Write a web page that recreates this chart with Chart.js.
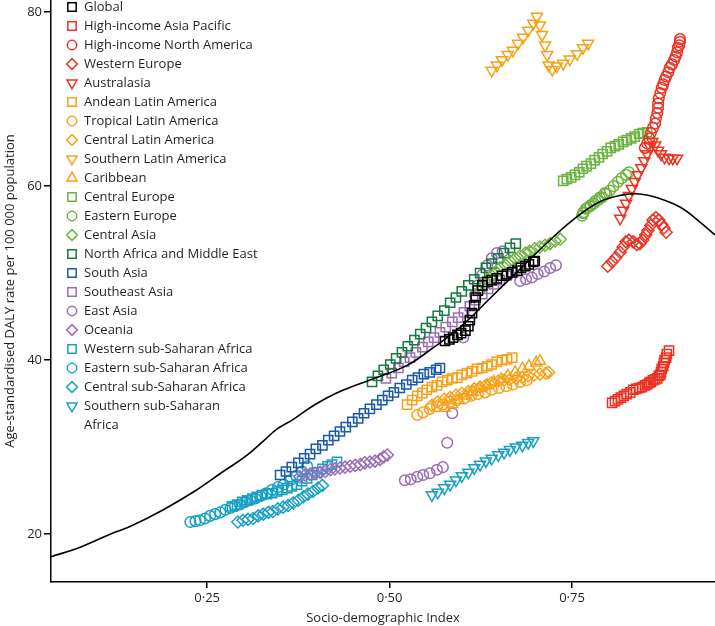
<!DOCTYPE html>
<html>
<head>
<meta charset="utf-8">
<script src="https://cdn.jsdelivr.net/npm/chart.js@4.4.0/dist/chart.umd.min.js"></script>
<style>
  html, body { margin: 0; padding: 0; background: #fff; }
  #wrap { width: 715px; height: 626px; }
</style>
</head>
<body>
<div id="wrap"><canvas id="chart" width="715" height="626"></canvas></div>
<script>
// expected values by SDI (black line)
const curveSdi = [0.036,0.076,0.117,0.145,0.190,0.236,0.272,0.302,0.327,0.346,0.368,0.398,0.432,0.476,0.524,0.556,0.587,0.610,0.634,0.679,0.716,0.751,0.788,0.820,0.843,0.866,0.898,0.925,0.946];
const curveDaly = [17.4,18.5,20.0,20.9,22.8,25.1,27.2,28.9,30.7,32.1,33.2,34.9,36.4,37.8,39.4,41.2,43.1,44.8,46.8,50.5,53.5,56.1,58.2,59.0,59.1,58.7,57.6,55.9,54.4];

// observed trajectories, one pair of arrays per region
const globalSdi = [0.576,0.582,0.587,0.593,0.598,0.604,0.608,0.610,0.613,0.616,0.618,0.621,0.627,0.634,0.640,0.647,0.654,0.661,0.668,0.675,0.680,0.686,0.691,0.697,0.699];
const globalDaly = [42.2,42.4,42.6,42.9,43.1,43.4,43.9,44.6,45.4,46.3,47.2,48.0,48.6,49.0,49.2,49.4,49.7,49.9,50.1,50.3,50.6,50.8,51.0,51.3,51.4];

const hiapSdi = [0.805,0.809,0.813,0.817,0.821,0.825,0.830,0.834,0.838,0.842,0.846,0.850,0.853,0.856,0.858,0.861,0.864,0.867,0.869,0.871,0.872,0.873,0.875,0.876,0.877,0.879,0.880,0.883];
const hiapDaly = [35.1,35.3,35.5,35.7,35.9,36.1,36.3,36.6,36.7,36.8,36.9,37.1,37.2,37.4,37.5,37.7,37.8,37.9,38.2,38.3,38.6,39.0,39.3,39.7,40.0,40.3,40.7,41.1];

const hinaSdi = [0.850,0.853,0.856,0.858,0.861,0.864,0.865,0.867,0.868,0.868,0.869,0.871,0.873,0.875,0.877,0.879,0.882,0.884,0.887,0.890,0.892,0.894,0.895,0.897,0.898,0.898];
const hinaDaly = [64.4,64.9,65.5,66.1,66.7,67.2,67.8,68.4,69.0,69.5,70.1,70.7,71.3,71.7,72.2,72.6,73.1,73.6,74.0,74.5,74.9,75.4,75.9,76.2,76.6,76.9];

const weSdi = [0.799,0.805,0.810,0.816,0.820,0.824,0.828,0.834,0.839,0.843,0.847,0.851,0.854,0.858,0.861,0.865,0.869,0.873,0.876,0.879];
const weDaly = [50.8,51.3,51.8,52.4,53.0,53.6,53.8,53.6,53.3,53.4,53.8,54.4,54.9,55.5,56.1,56.4,56.1,55.6,55.2,54.7];

const ausSdi = [0.816,0.820,0.824,0.828,0.832,0.836,0.840,0.845,0.849,0.853,0.857,0.860,0.864,0.868,0.872,0.877,0.883,0.888,0.894];
const ausDaly = [56.3,57.2,58.0,58.9,59.7,60.5,61.3,62.1,62.9,63.7,64.5,65.1,64.7,64.1,63.7,63.3,63.2,63.2,63.2];

const andeanSdi = [0.524,0.531,0.538,0.545,0.551,0.558,0.565,0.572,0.579,0.586,0.593,0.599,0.606,0.613,0.620,0.627,0.634,0.640,0.647,0.654,0.661,0.668];
const andeanDaly = [34.9,35.4,35.9,36.2,36.6,36.9,37.1,37.5,37.7,37.9,38.0,38.3,38.5,38.7,39.0,39.1,39.3,39.5,39.8,40.0,40.1,40.3];

const tropSdi = [0.538,0.546,0.555,0.565,0.573,0.583,0.592,0.602,0.612,0.621,0.631,0.640,0.650,0.660,0.669,0.679,0.688];
const tropDaly = [33.7,34.0,34.4,34.7,34.9,35.2,35.4,35.6,35.9,36.1,36.3,36.6,36.8,37.0,37.2,37.5,37.7];

const clatSdi = [0.558,0.566,0.575,0.583,0.591,0.599,0.608,0.616,0.624,0.632,0.640,0.649,0.657,0.665,0.673,0.682,0.690,0.698,0.706,0.714,0.718];
const clatDaly = [34.8,35.2,35.5,35.7,36.0,36.2,36.4,36.7,36.9,37.1,37.4,37.6,37.7,37.8,37.9,38.0,38.2,38.3,38.4,38.5,38.6];

const slatSdi = [0.640,0.647,0.654,0.662,0.669,0.676,0.683,0.690,0.697,0.702,0.706,0.709,0.713,0.716,0.718,0.723,0.729,0.738,0.747,0.757,0.765,0.772];
const slatDaly = [73.3,73.9,74.5,75.1,75.6,76.4,77.1,77.9,78.7,79.5,78.5,77.4,76.2,75.1,73.9,73.4,73.8,74.1,74.6,75.2,75.9,76.4];

const caribSdi = [0.576,0.586,0.595,0.605,0.614,0.624,0.634,0.643,0.653,0.662,0.672,0.682,0.691,0.701,0.706];
const caribDaly = [34.5,34.9,35.4,35.9,36.3,36.8,37.1,37.5,37.8,38.2,38.6,39.0,39.3,39.7,39.9];

const ceuSdi = [0.738,0.743,0.749,0.754,0.760,0.765,0.770,0.776,0.781,0.787,0.792,0.798,0.803,0.809,0.814,0.820,0.825,0.831,0.836,0.842,0.847,0.853];
const ceuDaly = [60.6,60.8,61.0,61.3,61.6,62.0,62.3,62.6,63.0,63.3,63.7,64.0,64.4,64.6,64.8,65.1,65.3,65.5,65.7,66.0,66.1,66.2];

const eeuSdi = [0.795,0.788,0.782,0.775,0.769,0.765,0.764,0.766,0.771,0.775,0.780,0.786,0.791,0.797,0.802,0.807,0.813,0.818,0.824,0.828];
const eeuDaly = [59.2,58.7,58.3,57.8,57.4,56.9,56.6,57.0,57.5,57.7,58.0,58.4,58.7,59.1,59.5,60.0,60.5,60.9,61.3,61.6];

const casSdi = [0.624,0.630,0.635,0.640,0.646,0.651,0.658,0.665,0.672,0.679,0.686,0.692,0.699,0.706,0.713,0.720,0.727,0.734];
const casDaly = [48.0,48.6,49.2,49.7,50.1,50.6,51.0,51.4,51.7,52.0,52.3,52.5,52.8,53.0,53.2,53.4,53.7,53.9];

const nameSdi = [0.476,0.484,0.492,0.501,0.509,0.517,0.525,0.534,0.542,0.550,0.558,0.566,0.575,0.583,0.591,0.599,0.608,0.616,0.624,0.632,0.640,0.649,0.657,0.665,0.673];
const nameDaly = [37.5,38.2,38.9,39.5,40.2,40.9,41.6,42.3,43.0,43.7,44.4,45.1,45.7,46.6,47.2,47.9,48.6,49.3,50.0,50.6,51.1,51.7,52.3,52.9,53.4];

const sasSdi = [0.350,0.358,0.366,0.375,0.383,0.391,0.399,0.408,0.416,0.424,0.432,0.440,0.449,0.457,0.465,0.473,0.482,0.490,0.498,0.506,0.514,0.523,0.531,0.539,0.547,0.555,0.564,0.569];
const sasDaly = [26.8,27.2,27.7,28.2,28.7,29.2,29.8,30.2,30.8,31.3,31.8,32.3,32.9,33.3,33.9,34.4,34.9,35.4,35.9,36.3,36.8,37.2,37.7,38.0,38.4,38.6,38.9,39.1];

const seaSdi = [0.495,0.503,0.512,0.520,0.528,0.536,0.545,0.553,0.561,0.569,0.577,0.586,0.594,0.602,0.610,0.618,0.627,0.635,0.643,0.651,0.660,0.668,0.676];
const seaDaly = [37.9,38.5,39.1,39.8,40.3,40.9,41.5,42.1,42.6,43.2,43.8,44.4,44.9,45.5,46.2,46.9,47.6,48.2,48.7,49.2,49.7,50.1,50.6];

const easSdi = [0.521,0.529,0.538,0.546,0.555,0.565,0.573,0.579,0.586,0.601,0.617,0.621,0.627,0.634,0.640,0.647,0.655,0.679,0.687,0.695,0.703,0.712,0.720,0.728];
const easDaly = [26.2,26.3,26.6,26.8,27.0,27.4,27.7,30.5,33.9,42.6,47.5,48.6,49.8,50.9,51.7,52.3,52.5,49.1,49.3,49.5,49.9,50.2,50.6,50.9];

const oceSdi = [0.377,0.384,0.391,0.398,0.405,0.412,0.419,0.425,0.432,0.439,0.446,0.453,0.460,0.466,0.473,0.480,0.487,0.492,0.497];
const oceDaly = [26.6,26.8,26.9,27.0,27.1,27.2,27.4,27.5,27.6,27.7,27.8,27.9,28.0,28.2,28.3,28.4,28.6,28.9,29.1];

const wssaSdi = [0.284,0.291,0.298,0.305,0.312,0.318,0.325,0.332,0.339,0.346,0.353,0.360,0.366,0.373,0.380,0.387,0.394,0.401,0.408,0.415,0.421,0.428];
const wssaDaly = [23.2,23.4,23.7,23.9,24.1,24.3,24.5,24.6,24.7,24.9,25.1,25.3,25.5,25.7,26.1,26.4,26.8,27.1,27.5,27.8,28.0,28.3];

const essaSdi = [0.227,0.234,0.240,0.247,0.254,0.261,0.268,0.275,0.282,0.288,0.295,0.302,0.309,0.316,0.323,0.331,0.339,0.347,0.355,0.364,0.372,0.380,0.387];
const essaDaly = [21.4,21.5,21.6,21.8,22.1,22.3,22.5,22.8,23.0,23.2,23.4,23.7,23.9,24.1,24.4,24.7,25.1,25.4,25.7,26.2,26.7,27.2,27.8];

const cssaSdi = [0.292,0.299,0.306,0.313,0.320,0.327,0.334,0.340,0.347,0.354,0.361,0.368,0.375,0.382,0.388,0.395,0.402,0.408];
const cssaDaly = [21.4,21.6,21.7,21.8,22.1,22.3,22.5,22.6,22.9,23.1,23.3,23.6,23.9,24.3,24.6,24.9,25.3,25.6];

const sssaSdi = [0.558,0.566,0.575,0.583,0.591,0.599,0.608,0.616,0.624,0.632,0.640,0.649,0.657,0.665,0.673,0.682,0.690,0.697];
const sssaDaly = [24.5,24.8,25.3,25.7,26.2,26.7,27.1,27.6,28.0,28.4,28.7,29.1,29.4,29.7,30.0,30.2,30.5,30.7];

const xTicks = [0.25, 0.50, 0.75];
const yTicks = [20, 40, 60, 80];

const RED = '#ec3323', ORANGE = '#f7a11a', LGREEN = '#6db33f', DGREEN = '#177a3e',
      BLUE = '#1a5aab', PURPLE = '#9a6db5', TEAL = '#17a0c4';

// legend order = drawing order
const regions = [
  { name: 'Global', sdi: globalSdi, daly: globalDaly, color: '#000', shape: 'rect' },
  { name: 'High-income Asia Pacific', sdi: hiapSdi, daly: hiapDaly, color: RED, shape: 'rect' },
  { name: 'High-income North America', sdi: hinaSdi, daly: hinaDaly, color: RED, shape: 'circle' },
  { name: 'Western Europe', sdi: weSdi, daly: weDaly, color: RED, shape: 'rectRot' },
  { name: 'Australasia', sdi: ausSdi, daly: ausDaly, color: RED, shape: 'down' },
  { name: 'Andean Latin America', sdi: andeanSdi, daly: andeanDaly, color: ORANGE, shape: 'rect' },
  { name: 'Tropical Latin America', sdi: tropSdi, daly: tropDaly, color: ORANGE, shape: 'circle' },
  { name: 'Central Latin America', sdi: clatSdi, daly: clatDaly, color: ORANGE, shape: 'rectRot' },
  { name: 'Southern Latin America', sdi: slatSdi, daly: slatDaly, color: ORANGE, shape: 'down' },
  { name: 'Caribbean', sdi: caribSdi, daly: caribDaly, color: ORANGE, shape: 'triangle' },
  { name: 'Central Europe', sdi: ceuSdi, daly: ceuDaly, color: LGREEN, shape: 'rect' },
  { name: 'Eastern Europe', sdi: eeuSdi, daly: eeuDaly, color: LGREEN, shape: 'circle' },
  { name: 'Central Asia', sdi: casSdi, daly: casDaly, color: LGREEN, shape: 'rectRot' },
  { name: 'North Africa and Middle East', sdi: nameSdi, daly: nameDaly, color: DGREEN, shape: 'rect' },
  { name: 'South Asia', sdi: sasSdi, daly: sasDaly, color: BLUE, shape: 'rect' },
  { name: 'Southeast Asia', sdi: seaSdi, daly: seaDaly, color: PURPLE, shape: 'rect' },
  { name: 'East Asia', sdi: easSdi, daly: easDaly, color: PURPLE, shape: 'circle' },
  { name: 'Oceania', sdi: oceSdi, daly: oceDaly, color: PURPLE, shape: 'rectRot' },
  { name: 'Western sub-Saharan Africa', sdi: wssaSdi, daly: wssaDaly, color: TEAL, shape: 'rect' },
  { name: 'Eastern sub-Saharan Africa', sdi: essaSdi, daly: essaDaly, color: TEAL, shape: 'circle' },
  { name: 'Central sub-Saharan Africa', sdi: cssaSdi, daly: cssaDaly, color: TEAL, shape: 'rectRot' },
  { name: 'Southern sub-Saharan\nAfrica', sdi: sssaSdi, daly: sssaDaly, color: TEAL, shape: 'down' }
];

const FONT = '"Open Sans", "Noto Sans", sans-serif';
const TEXT = '#231f20';

function markerOpts(shape) {
  if (shape === 'rect') return { pointStyle: 'rect', radius: 6.5, rotation: 0 };
  if (shape === 'circle') return { pointStyle: 'circle', radius: 5.3, rotation: 0 };
  if (shape === 'rectRot') return { pointStyle: 'rectRot', radius: 6, rotation: 0 };
  if (shape === 'triangle') return { pointStyle: 'triangle', radius: 6.4, rotation: 0 };
  return { pointStyle: 'triangle', radius: 6.4, rotation: 180 };
}

const datasets = [{
  label: 'Expected',
  data: curveSdi.map((x, i) => ({ x, y: curveDaly[i] })),
  showLine: true,
  borderColor: '#000',
  borderWidth: 1.6,
  pointRadius: 0,
  tension: 0.4,
  fill: false
}];

regions.forEach(r => {
  const m = markerOpts(r.shape);
  datasets.push({
    label: r.name,
    data: r.sdi.map((x, i) => ({ x, y: r.daly[i] })),
    showLine: false,
    pointStyle: m.pointStyle,
    pointRadius: m.radius,
    pointRotation: m.rotation,
    pointBorderWidth: 1.5,
    borderColor: r.color,
    pointBorderColor: r.color,
    backgroundColor: 'rgba(0,0,0,0)',
    pointBackgroundColor: 'rgba(0,0,0,0)'
  });
});

// legend drawn inside the plot, top left
const regionLegend = {
  id: 'regionLegend',
  afterDraw(chart) {
    const ctx = chart.ctx;
    ctx.save();
    ctx.font = '13px ' + FONT;
    ctx.textBaseline = 'middle';
    ctx.textAlign = 'left';
    regions.forEach((r, i) => {
      const y = 7 + i * 19;
      const m = markerOpts(r.shape);
      ctx.strokeStyle = r.color;
      ctx.fillStyle = 'rgba(0,0,0,0)';
      ctx.lineWidth = 1.5;
      Chart.helpers.drawPoint(ctx, { pointStyle: m.pointStyle, radius: m.radius - 0.6, rotation: m.rotation, borderWidth: 1.5 }, 72, y);
      ctx.fillStyle = TEXT;
      r.name.split('\n').forEach((line, j) => ctx.fillText(line, 84, y + j * 19));
    });
    ctx.restore();
  }
};

new Chart(document.getElementById('chart'), {
  type: 'scatter',
  data: { datasets },
  plugins: [regionLegend],
  options: {
    responsive: false,
    animation: false,
    devicePixelRatio: 1,
    layout: { padding: 0, autoPadding: false },
    plugins: { legend: { display: false }, tooltip: { enabled: false } },
    scales: {
      x: {
        type: 'linear',
        min: 0.036,
        max: 0.946,
        border: { display: true, color: '#000', width: 1.5 },
        grid: { drawOnChartArea: false, drawTicks: true, tickLength: 6, color: '#000', lineWidth: 1.5 },
        afterBuildTicks: s => { s.ticks = xTicks.map(v => ({ value: v })); },
        ticks: {
          callback: v => v.toFixed(2).replace('.', '·'),
          color: TEXT, font: { family: FONT, size: 13 }, padding: 2, maxRotation: 0
        },
        title: { display: true, text: 'Socio-demographic Index', color: TEXT, font: { family: FONT, size: 13 }, padding: { top: 2, bottom: 0 } },
        afterFit: s => { s.height = 44; s.paddingLeft = 0; s.paddingRight = 0; }
      },
      y: {
        type: 'linear',
        min: 14.5,
        max: 81.4,
        border: { display: true, color: '#000', width: 1.5 },
        grid: { drawOnChartArea: false, drawTicks: true, tickLength: 7, color: '#000', lineWidth: 1.5 },
        afterBuildTicks: s => { s.ticks = yTicks.map(v => ({ value: v })); },
        ticks: { color: TEXT, font: { family: FONT, size: 13 }, padding: 2 },
        title: { display: true, text: 'Age-standardised DALY rate per 100 000 population', color: TEXT, font: { family: FONT, size: 13 }, padding: { top: 2, bottom: 0 } },
        afterFit: s => { s.width = 51; s.paddingTop = 0; s.paddingBottom = 0; }
      }
    }
  }
});
</script>
</body>
</html>
